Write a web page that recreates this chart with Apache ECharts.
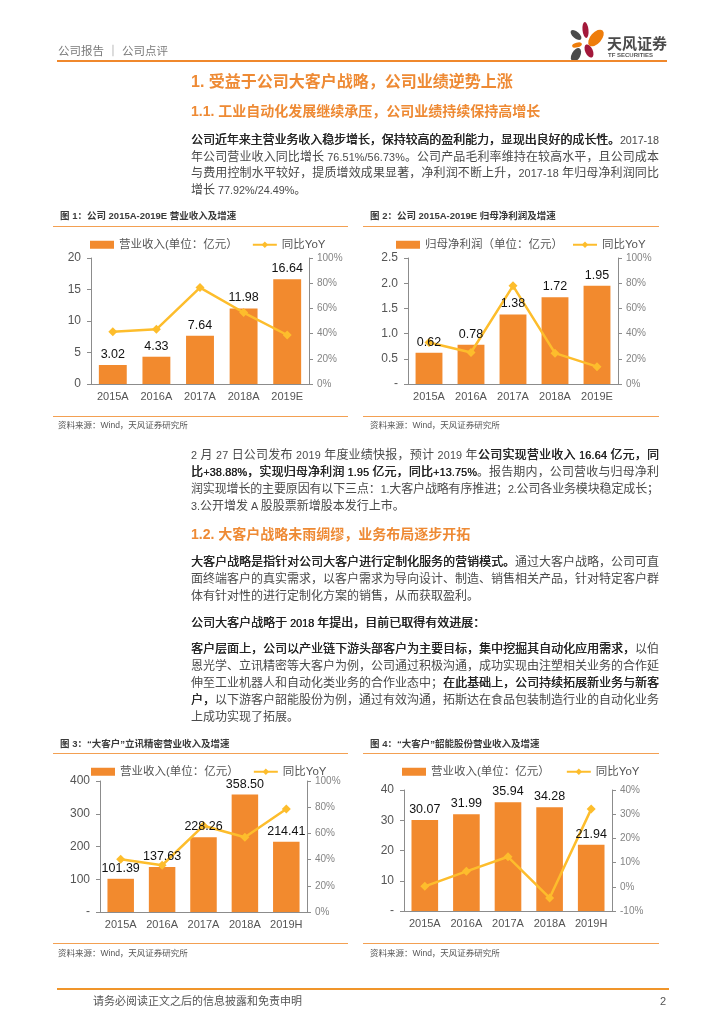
<!DOCTYPE html>
<html>
<head>
<meta charset="utf-8">
<script src="https://cdn.jsdelivr.net/npm/echarts@6/dist/echarts.min.js"></script>
<style>
html,body{margin:0;padding:0;background:#fff;}
#page{position:relative;width:724px;height:1024px;overflow:hidden;background:#fff;}
#chart{position:absolute;left:0;top:0;width:724px;height:1024px;z-index:0;}
.t{position:absolute;white-space:nowrap;z-index:2;font-family:"Liberation Sans","Noto Sans CJK SC",sans-serif;}
.p{left:191px;font-size:12px;line-height:16px;height:16px;color:#4a4a4a;}
.p b{font-weight:normal;color:#222;text-shadow:0.35px 0 0 #222;}
.l{font-size:10.8px;}
.hr{position:absolute;z-index:2;}
.cap{font-size:9.5px;font-weight:bold;color:#3a3a3a;line-height:12px;}
.src{font-size:8.5px;color:#555;line-height:10px;}
.h{color:#EE8A34;font-weight:bold;}
</style>
</head>
<body>
<div id="page">
  <div id="chart"></div>
</div>
<script>
// ---------------- data ----------------
const years12 = ['2015A', '2016A', '2017A', '2018A', '2019E'];
const years34 = ['2015A', '2016A', '2017A', '2018A', '2019H'];
const revenue = [3.02, 4.33, 7.64, 11.98, 16.64];
const revenueYoY = [41.4, 43.4, 76.51, 56.73, 38.88];
const netProfit = [0.62, 0.78, 1.38, 1.72, 1.95];
const netProfitYoY = [33.0, 25.0, 77.92, 24.49, 13.75];
const luxshareRevenue = [101.39, 137.63, 228.26, 358.50, 214.41];
const luxshareYoY = [40.2, 35.7, 65.9, 57.1, 78.6];
const shaonengRevenue = [30.07, 31.99, 35.94, 34.28, 21.94];
const shaonengYoY = [0.2, 6.4, 12.4, -4.6, 32.1];
const revName = '营业收入(单位：亿元）';
const profitName = '归母净利润（单位：亿元）';
const yoyName = '同比YoY';

// ---------------- page text ----------------
const page = document.getElementById('page');
function addText(text, cls, left, cy, lh, extra) {
  const d = document.createElement('div');
  d.className = 't ' + cls;
  d.style.left = left + 'px';
  d.style.top = (cy - lh / 2) + 'px';
  d.style.lineHeight = lh + 'px';
  if (extra) Object.assign(d.style, extra);
  d.textContent = text;
  page.appendChild(d);
  return d;
}
function addRule(x1, x2, y, h, color) {
  const d = document.createElement('div');
  d.className = 'hr';
  Object.assign(d.style, {left: x1 + 'px', top: y + 'px', width: (x2 - x1) + 'px', height: h + 'px', background: color});
  page.appendChild(d);
}
function fillRuns(parent, text) {
  text.split(/([\x20-\x7E]+)/).forEach((s, k) => {
    if (!s) return;
    if (k % 2) { const sp = document.createElement('span'); sp.className = 'l'; sp.textContent = s; parent.appendChild(sp); }
    else parent.appendChild(document.createTextNode(s));
  });
}
const TEXT_W = 468;
function addLine(str, cy, last) {
  const d = document.createElement('div');
  d.className = 't p';
  d.style.top = (cy - 8) + 'px';
  str.split('**').forEach((part, i) => {
    if (!part) return;
    if (i % 2) { const b = document.createElement('b'); fillRuns(b, part); d.appendChild(b); }
    else fillRuns(d, part);
  });
  page.appendChild(d);
  if (!last) {
    const w = d.getBoundingClientRect().width;
    const n = Array.from(d.textContent).length;
    d.style.letterSpacing = ((TEXT_W - w) / (n - 1)) + 'px';
  }
}

// header
addText('公司报告 ｜ 公司点评', '', 58, 51, 14, {fontSize: '11.5px', color: '#7a7a7a'});
addRule(57, 667, 60, 2, '#F0882C');
addText('天风证券', '', 607, 43, 18, {fontSize: '15px', fontWeight: 'bold', color: '#4a4a4a', fontFamily: '"Noto Sans CJK SC",sans-serif'});
addText('TF SECURITIES', '', 608, 55, 12, {fontSize: '12px', fontWeight: 'bold', color: '#555', transform: 'scale(0.5,0.5)', transformOrigin: '0 50%'});

// headings
addText('1. 受益于公司大客户战略，公司业绩逆势上涨', 'h', 191, 82, 20, {fontSize: '16px'});
addText('1.1. 工业自动化发展继续承压，公司业绩持续保持高增长', 'h', 191, 111, 18, {fontSize: '14px'});

const para1 = [
  ['**公司近年来主营业务收入稳步增长，保持较高的盈利能力，显现出良好的成长性。**2017-18', 140, false],
  ['年公司营业收入同比增长 76.51%/56.73%。公司产品毛利率维持在较高水平，且公司成本', 156.5, false],
  ['与费用控制水平较好，提质增效成果显著，净利润不断上升，2017-18 年归母净利润同比', 173, false],
  ['增长 77.92%/24.49%。', 189.5, true]
];
const para2 = [
  ['2 月 27 日公司发布 2019 年度业绩快报，预计 2019 年**公司实现营业收入 16.64 亿元，同**', 455, false],
  ['**比+38.88%，实现归母净利润 1.95 亿元，同比+13.75%**。报告期内，公司营收与归母净利', 472, false],
  ['润实现增长的主要原因有以下三点：1.大客户战略有序推进；2.公司各业务模块稳定成长；', 489, false],
  ['3.公开增发 A 股股票新增股本发行上市。', 506, true]
];
const para3 = [
  ['**大客户战略是指针对公司大客户进行定制化服务的营销模式。**通过大客户战略，公司可直', 562, false],
  ['面终端客户的真实需求，以客户需求为导向设计、制造、销售相关产品，针对特定客户群', 579, false],
  ['体有针对性的进行定制化方案的销售，从而获取盈利。', 596, true],
  ['**公司大客户战略于 2018 年提出，目前已取得有效进展：**', 623, true],
  ['**客户层面上，公司以产业链下游头部客户为主要目标，集中挖掘其自动化应用需求，**以伯', 649, false],
  ['恩光学、立讯精密等大客户为例，公司通过积极沟通，成功实现由注塑相关业务的合作延', 666, false],
  ['伸至工业机器人和自动化类业务的合作业态中；**在此基础上，公司持续拓展新业务与新客**', 683, false],
  ['**户，**以下游客户韶能股份为例，通过有效沟通，拓斯达在食品包装制造行业的自动化业务', 700, false],
  ['上成功实现了拓展。', 717, true]
];
para1.concat(para2, para3).forEach(l => addLine(l[0], l[1], l[2]));
addText('1.2. 大客户战略未雨绸缪，业务布局逐步开拓', 'h', 191, 534, 18, {fontSize: '14px'});

// figure captions, rules, sources
const ORULE = '#F3A052';
addText('图 1：公司 2015A-2019E 营业收入及增速', 'cap', 60, 216, 12);
addText('图 2：公司 2015A-2019E 归母净利润及增速', 'cap', 370, 216, 12);
addRule(53, 348, 226, 1, ORULE); addRule(363, 659, 226, 1, ORULE);
addRule(53, 348, 416, 1, ORULE); addRule(363, 659, 416, 1, ORULE);
addText('资料来源：Wind，天风证券研究所', 'src', 58, 425, 10);
addText('资料来源：Wind，天风证券研究所', 'src', 370, 425, 10);
addText('图 3：“大客户”立讯精密营业收入及增速', 'cap', 60, 744, 12);
addText('图 4：“大客户”韶能股份营业收入及增速', 'cap', 370, 744, 12);
addRule(53, 348, 753, 1, ORULE); addRule(363, 659, 753, 1, ORULE);
addRule(53, 348, 943, 1, ORULE); addRule(363, 659, 943, 1, ORULE);
addText('资料来源：Wind，天风证券研究所', 'src', 58, 953, 10);
addText('资料来源：Wind，天风证券研究所', 'src', 370, 953, 10);

// footer
addRule(57, 669, 988, 2, '#F0952A');
addText('请务必阅读正文之后的信息披露和免责申明', '', 93, 1001, 14, {fontSize: '11px', color: '#555'});
addText('2', '', 660, 1001, 14, {fontSize: '11px', color: '#555'});

// ---------------- charts ----------------
const BAR = '#F28A2E', LINE = '#FDBD2C', AX = '#8c8c8c';
const NUMFONT = '"Liberation Sans",sans-serif';
const MIXFONT = '"Liberation Sans","Noto Sans CJK SC",sans-serif';
const NARROW = '"Liberation Sans Narrow","Liberation Sans",sans-serif';
const dashZero = v => v === 0 ? '-' : String(v);
const panels = [
  {grid: {left: 91, top: 258, width: 218, height: 126}, cats: years12, bars: revenue, barName: revName, yoy: revenueYoY,
   lax: {max: 20, interval: 5, fmt: v => String(v), margin: 10}, rax: {min: 0, max: 100, interval: 20},
   legend: {left: 90, top: 239, itemGap: 14}},
  {grid: {left: 408, top: 258, width: 210, height: 126}, cats: years12, bars: netProfit, barName: profitName, yoy: netProfitYoY,
   lax: {max: 2.5, interval: 0.5, fmt: v => v === 0 ? '-' : v.toFixed(1), margin: 10}, rax: {min: 0, max: 100, interval: 20},
   legend: {left: 396, top: 239, itemGap: 9}},
  {grid: {left: 100, top: 781, width: 207, height: 131}, cats: years34, bars: luxshareRevenue, barName: revName, yoy: luxshareYoY,
   lax: {max: 400, interval: 100, fmt: dashZero, margin: 10}, rax: {min: 0, max: 100, interval: 20},
   legend: {left: 91, top: 766, itemGap: 14}},
  {grid: {left: 404, top: 790, width: 208, height: 121}, cats: years34, bars: shaonengRevenue, barName: revName, yoy: shaonengYoY,
   lax: {max: 40, interval: 10, fmt: dashZero, margin: 10}, rax: {min: -10, max: 40, interval: 10},
   legend: {left: 402, top: 766, itemGap: 16}}
];

const option = {animation: false, backgroundColor: '#fff', grid: [], xAxis: [], yAxis: [], series: [], legend: [], graphic: {elements: []}};
panels.forEach((p, i) => {
  option.grid.push(Object.assign({containLabel: false}, p.grid));
  option.xAxis.push({
    type: 'category', gridIndex: i, data: p.cats,
    axisLine: {show: true, lineStyle: {color: AX, width: 1}},
    axisTick: {show: false},
    axisLabel: {color: '#555', fontSize: 11, fontFamily: NUMFONT, margin: 7, interval: 0}
  });
  option.yAxis.push({
    type: 'value', gridIndex: i, position: 'left', min: 0, max: p.lax.max, interval: p.lax.interval,
    axisLine: {show: true, lineStyle: {color: AX}},
    axisTick: {show: true, length: 4, lineStyle: {color: AX}},
    splitLine: {show: false},
    axisLabel: {color: '#555', fontSize: 12, fontFamily: NUMFONT, margin: p.lax.margin, formatter: p.lax.fmt}
  });
  option.yAxis.push({
    type: 'value', gridIndex: i, position: 'right', min: p.rax.min, max: p.rax.max, interval: p.rax.interval,
    axisLine: {show: true, lineStyle: {color: AX}},
    axisTick: {show: true, length: 4, lineStyle: {color: AX}},
    splitLine: {show: false},
    axisLabel: {color: '#858585', fontSize: 10, fontFamily: NARROW, margin: 8, formatter: '{value}%'}
  });
  option.series.push({
    type: 'bar', name: p.barName, xAxisIndex: i, yAxisIndex: 2 * i, data: p.bars,
    barWidth: '64%', barGap: '-100%', itemStyle: {color: BAR}, z: 2
  });
  option.series.push({
    type: 'line', name: yoyName, xAxisIndex: i, yAxisIndex: 2 * i + 1, data: p.yoy,
    symbol: 'diamond', symbolSize: 9, lineStyle: {color: LINE, width: 2.5}, itemStyle: {color: LINE}, z: 3
  });
  option.series.push({
    type: 'bar', name: 'labels' + i, xAxisIndex: i, yAxisIndex: 2 * i, data: p.bars,
    barWidth: '64%', barGap: '-100%', itemStyle: {color: 'rgba(0,0,0,0)'}, silent: true, z: 5,
    label: {show: true, position: 'top', distance: 4, color: '#111', fontSize: 12.5, fontFamily: NUMFONT,
            formatter: q => q.value.toFixed(2)}
  });
  option.legend.push({
    left: p.legend.left, top: p.legend.top, padding: 0, itemGap: p.legend.itemGap,
    itemWidth: 24, itemHeight: 8, selectedMode: false,
    data: [{name: p.barName, icon: 'rect'}, {name: yoyName}],
    textStyle: {color: '#555', fontSize: 11.5, fontFamily: MIXFONT, padding: [0, 0, 0, 0]}
  });
});

// logo petals
const petals = [
  {x: 576, y: 35, a: 6.5, b: 3.3, r: -0.7, c: '#4a4a4a'},
  {x: 585.5, y: 30, a: 3, b: 8, r: 0.1, c: '#A3183A'},
  {x: 596, y: 38, a: 10, b: 5.5, r: 0.85, c: '#EE7D0B'},
  {x: 577, y: 45, a: 5, b: 2.4, r: 0.25, c: '#EE7D0B'},
  {x: 589, y: 51, a: 7, b: 3.8, r: -1.15, c: '#A3183A'},
  {x: 576, y: 55, a: 7.5, b: 4.3, r: 1.1, c: '#4a4a4a'}
];
petals.forEach(pt => option.graphic.elements.push({
  type: 'circle', x: pt.x, y: pt.y, scaleX: pt.a, scaleY: pt.b, rotation: pt.r,
  shape: {cx: 0, cy: 0, r: 1}, style: {fill: pt.c}, silent: true
}));

const chart = echarts.init(document.getElementById('chart'), null, {renderer: 'canvas', width: 724, height: 1024});
chart.setOption(option);
</script>
</body>
</html>
